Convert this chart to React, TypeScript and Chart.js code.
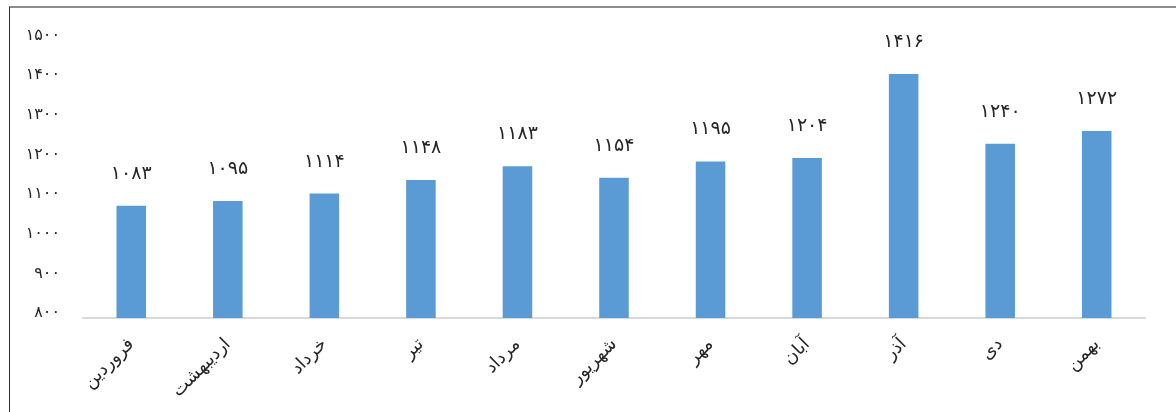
import React, { useEffect, useRef } from "react";
import { Chart, registerables } from "chart.js";

Chart.register(...registerables);

const months = ["فروردین", "اردیبهشت", "خرداد", "تیر", "مرداد", "شهریور", "مهر", "آبان", "آذر", "دی", "بهمن"];
const values = [1083, 1095, 1114, 1148, 1183, 1154, 1195, 1204, 1416, 1240, 1272];
const yMin = 800;
const yMax = 1500;
const yStep = 100;

const FA_DIGITS = ["۰", "۱", "۲", "۳", "۴", "۵", "۶", "۷", "۸", "۹"];
const toFa = (n: number | string) => String(n).replace(/[0-9]/g, (d) => FA_DIGITS[Number(d)]);

const FONT = "'DejaVu Sans', sans-serif";

const labelPlugin = {
  id: "barLabels",
  afterDatasetsDraw(chart: any) {
    const ctx = chart.ctx;
    const meta = chart.getDatasetMeta(0);
    ctx.save();
    ctx.font = `19px ${FONT}`;
    ctx.fillStyle = "#262626";
    ctx.textAlign = "center";
    ctx.textBaseline = "middle";
    meta.data.forEach((bar: any, i: number) => {
      ctx.fillText(toFa(values[i]), bar.x, bar.y - 32);
    });
    ctx.restore();
  },
};

export default function App() {
  const ref = useRef<HTMLCanvasElement>(null);
  useEffect(() => {
    if (!ref.current) return;
    const chart = new Chart(ref.current, {
      type: "bar",
      data: {
        labels: months,
        datasets: [
          {
            data: values,
            backgroundColor: "#5B9BD5",
            barPercentage: 0.306,
            categoryPercentage: 1,
          },
        ],
      },
      options: {
        animation: false,
        responsive: false,
        layout: { padding: { top: 28, right: 31, left: 0, bottom: 0 } },
        plugins: { legend: { display: false }, tooltip: { enabled: false } },
        scales: {
          x: {
            grid: { display: false, drawTicks: false },
            border: { display: true, color: "#d9d9d9", width: 2 },
            ticks: {
              minRotation: 45,
              maxRotation: 45,
              padding: 16,
              color: "#262626",
              font: { family: FONT, size: 18 },
            },
            afterFit(scale: any) {
              scale.height = 94;
            },
          },
          y: {
            min: yMin,
            max: yMax,
            grid: { display: false, drawTicks: false },
            border: { display: false },
            ticks: {
              stepSize: yStep,
              padding: 23,
              labelOffset: -5,
              color: "#262626",
              font: { family: FONT, size: 16 },
              callback: (v: any) => toFa(v),
            },
            afterFit(scale: any) {
              scale.width = 73;
            },
          },
        },
      },
      plugins: [labelPlugin],
    });
    return () => chart.destroy();
  }, []);
  return (
    <div
      style={{
        position: "absolute",
        left: 9,
        top: 6,
        width: 1167,
        height: 406,
        borderLeft: "1px solid #333",
        borderTop: "2px solid #8c8c8c",
        background: "#fff",
      }}
    >
      <canvas ref={ref} width={1166} height={404} style={{ display: "block" }} />
    </div>
  );
}
